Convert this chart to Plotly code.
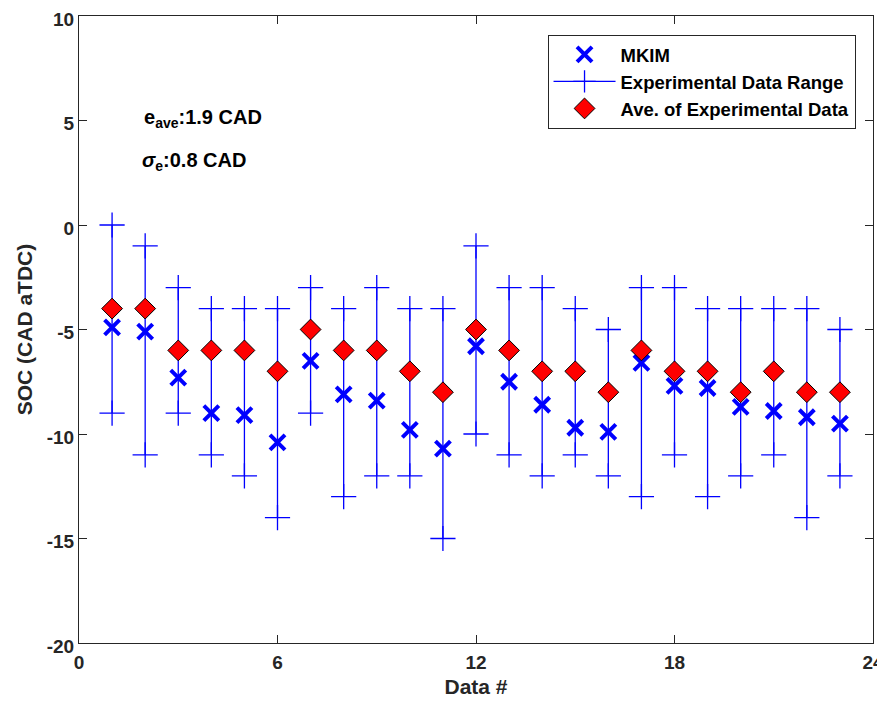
import plotly.graph_objects as go

data_idx = list(range(1, 24))
range_upper = [0, -1, -3, -4, -4, -4, -3, -4, -3, -4, -4, -1, -3, -3, -4, -5, -3, -3, -4, -4, -4, -4, -5]
range_lower = [-9, -11, -9, -11, -12, -14, -9, -13, -12, -12, -15, -10, -11, -12, -11, -12, -13, -11, -13, -12, -11, -14, -12]
exp_avg = [-4, -4, -6, -6, -6, -7, -5, -6, -6, -7, -8, -5, -6, -7, -7, -8, -6, -7, -7, -8, -7, -8, -8]
mkim = [-4.9, -5.1, -7.3, -9.0, -9.1, -10.4, -6.5, -8.1, -8.4, -9.8, -10.7, -5.8, -7.5, -8.6, -9.7, -9.9, -6.6, -7.7, -7.8, -8.7, -8.9, -9.2, -9.5]
x_ticks = [0, 6, 12, 18, 24]
y_ticks = [-20, -15, -10, -5, 0, 5, 10]

FONT = "Liberation Sans, Arial, sans-serif"
INK = "#262626"

rx, ry = [], []
for x, lo, hi in zip(data_idx, range_lower, range_upper):
    rx += [x, x, None]
    ry += [lo, hi, None]

fig = go.Figure()
fig.add_trace(go.Scatter(
    x=data_idx, y=mkim, mode="markers", name="<b>MKIM</b>",
    marker=dict(symbol="x-thin", size=15, color="#0000ff",
                line=dict(color="#0000ff", width=4)),
))
fig.add_trace(go.Scatter(
    x=rx, y=ry, mode="lines+markers", name="<b>Experimental Data Range</b>",
    line=dict(color="#0000ff", width=1.3),
    marker=dict(symbol="cross-thin", size=18, color="#0000ff",
                line=dict(color="#0000ff", width=1.3)),
))
fig.add_trace(go.Scatter(
    x=data_idx, y=exp_avg, mode="markers", name="<b>Ave. of Experimental Data</b>",
    marker=dict(symbol="diamond", size=16, color="#ff0000",
                line=dict(color="black", width=1)),
))

fig.add_annotation(x=0.079, y=0.837, xref="paper", yref="paper", xanchor="left", yanchor="middle",
                   text="<b>e<sub>ave</sub>:1.9 CAD</b>", showarrow=False,
                   font=dict(family=FONT, size=20, color="black"))
fig.add_annotation(x=0.077, y=0.768, xref="paper", yref="paper", xanchor="left", yanchor="middle",
                   text="<b><i>σ</i><sub>e</sub>:0.8 CAD</b>", showarrow=False,
                   font=dict(family=FONT, size=20, color="black"))

axis_common = dict(showgrid=False, zeroline=False, showline=True, linecolor=INK, linewidth=1,
                   mirror="allticks", ticks="inside", ticklen=8, tickcolor=INK, automargin=False,
                   ticklabeloverflow="allow",
                   tickfont=dict(family=FONT, size=19, color=INK))

# page body adds an 8px offset; figure sized to fit the 885x706 viewport
fig.update_layout(
    width=877, height=690,
    margin=dict(l=71, r=12, t=8, b=55),
    plot_bgcolor="white", paper_bgcolor="white",
    font=dict(family=FONT, color=INK),
    showlegend=True,
    legend=dict(x=0.978, y=0.970, xanchor="right", yanchor="top",
                bgcolor="white", bordercolor=INK, borderwidth=1,
                font=dict(family=FONT, size=18.5, color="black"),
                tracegroupgap=0, itemwidth=62),
    xaxis=dict(range=[0, 24], tickvals=x_ticks, ticktext=[f"<b>{v}</b>" for v in x_ticks],
               ticklabelstandoff=2,
               title=dict(text="<b>Data #</b>", font=dict(family=FONT, size=21, color=INK), standoff=10),
               **axis_common),
    yaxis=dict(range=[-20, 10], tickvals=y_ticks, ticktext=[f"<b>{v}</b>" for v in y_ticks],
               ticklabelshift=3,
               title=dict(text="<b>SOC (CAD aTDC)</b>", font=dict(family=FONT, size=21, color=INK), standoff=8),
               **axis_common),
)

fig.write_html("out.html")
